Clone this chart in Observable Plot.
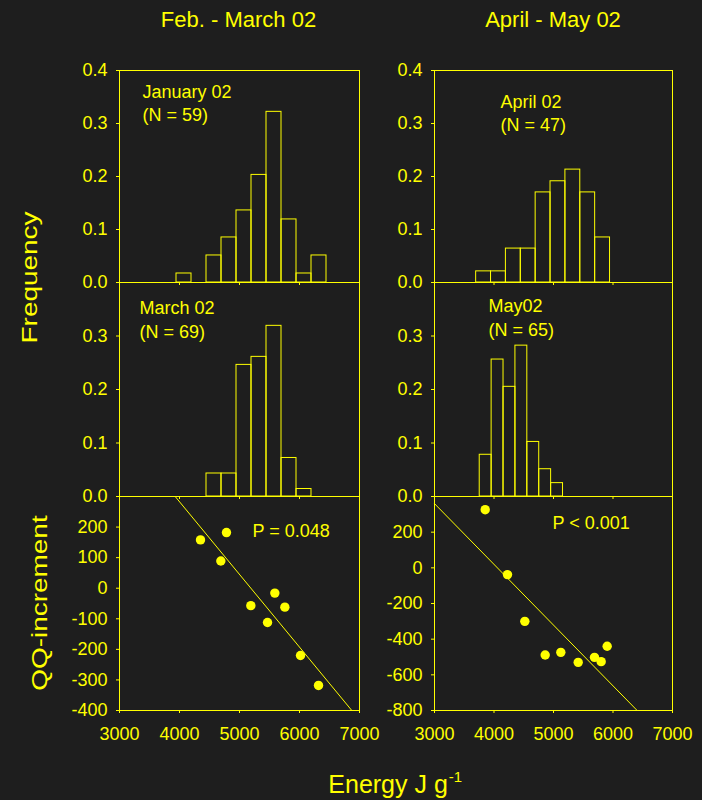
<!DOCTYPE html>
<html><head><meta charset="utf-8">
<script src="https://cdn.jsdelivr.net/npm/d3@7"></script>
<script src="https://cdn.jsdelivr.net/npm/@observablehq/plot@0.6"></script>
<style>
html,body{margin:0;padding:0;background:#1e1e1e;}
#chart{position:relative;width:702px;height:800px;background:#1e1e1e;overflow:hidden;font-family:"Liberation Sans",Arial,sans-serif;}
#chart svg{position:absolute;overflow:visible;max-width:none;}
</style></head><body><div id="chart"></div>
<script>
// ---------- data ----------
const columnTitles = ["Feb. - March 02", "April - May 02"];

const janLabel = "January 02\n(N = 59)";
const janBinLow = [3950, 4200, 4450, 4700, 4950, 5200, 5450, 5700, 5950, 6200];
const janFreq   = [0.017, 0, 0.051, 0.085, 0.136, 0.203, 0.322, 0.119, 0.017, 0.051];
const janBinWidth = 250;

const aprLabel = "April 02\n(N = 47)";
const aprBinLow = [3700, 3950, 4200, 4450, 4700, 4950, 5200, 5450, 5700];
const aprFreq   = [0.021, 0.021, 0.064, 0.064, 0.170, 0.191, 0.213, 0.170, 0.085];
const aprBinWidth = 250;

const marLabel = "March 02\n(N = 69)";
const marBinLow = [4450, 4700, 4950, 5200, 5450, 5700, 5950];
const marFreq   = [0.043, 0.043, 0.246, 0.261, 0.319, 0.072, 0.014];
const marBinWidth = 250;

const mayLabel = "May02\n(N = 65)";
const mayBinLow = [3760, 3960, 4160, 4360, 4560, 4760, 4960];
const mayFreq   = [0.078, 0.256, 0.205, 0.282, 0.102, 0.051, 0.025];
const mayBinWidth = 200;

const febMarP = "P = 0.048";
const febMarEnergy = [4350, 4783, 4689, 5189, 5589, 5756, 5467, 6017, 6317];
const febMarQQ     = [158, 182, 89, -57, -16, -62, -112, -220, -318];
const febMarFitEnergy = [3928, 6872];
const febMarFitQQ     = [300, -400];

const aprMayP = "P < 0.001";
const aprMayEnergy = [3852, 4227, 4518, 4860, 5123, 5415, 5689, 5801, 5902];
const aprMayQQ     = [326, -38, -300, -489, -474, -530, -502, -526, -440];
const aprMayFitEnergy = [3000, 6406];
const aprMayFitQQ     = [360, -800];

const energyTicks = [3000, 4000, 5000, 6000, 7000];
const histInnerTicks = [4000, 5000, 6000];
const freqTicksTop = [0, 0.1, 0.2, 0.3, 0.4];
const freqTicksMid = [0, 0.1, 0.2, 0.3];
const qqTicksLeft = [-400, -300, -200, -100, 0, 100, 200];
const qqTicksRight = [-800, -600, -400, -200, 0, 200];

const yLabelFreq = "Frequency";
const yLabelQQ = "QQ-increment";
const xLabel = "Energy J g";
const xLabelSup = "-1";

// ---------- drawing ----------
const YEL = "#ffff00";
const FONT = "'Liberation Sans', Arial, sans-serif";
const chart = document.getElementById("chart");

function hist(lows, freqs, width) {
  return lows.map((lo, i) => ({lo, hi: lo + width, f: freqs[i]})).filter(d => d.f > 0);
}
function pts(xs, ys) { return xs.map((x, i) => ({x, y: ys[i]})); }

function panel({left, top, w, h, mb = 10, mr = 10, yDomain, yTicks, yFmt, xLabels, marks}) {
  const ml = 60, mt = 10;
  const svg = Plot.plot({
    width: ml + w + mr, height: mt + h + mb,
    marginLeft: ml, marginRight: mr, marginTop: mt, marginBottom: mb,
    x: {domain: [3000, 7000]},
    y: {domain: yDomain},
    style: {background: "transparent", color: YEL, fontFamily: FONT, fontSize: "18px", overflow: "visible"},
    marks: [
      Plot.frame({stroke: YEL, strokeWidth: 1}),
      Plot.axisY({ticks: yTicks, tickFormat: yFmt, tickSize: 3, tickPadding: 9, label: null, fill: YEL, stroke: YEL}),
      Plot.axisX({ticks: xLabels ? energyTicks : histInnerTicks, tickSize: 3, tickPadding: 14,
                  tickFormat: xLabels ? (d => String(d)) : (() => ""), label: null, fill: YEL, stroke: YEL}),
      ...marks
    ]
  });
  svg.style.left = (left - ml) + "px";
  svg.style.top = (top - mt) + "px";
  chart.append(svg);
}

function histMarks(data, label, dx, dy) {
  return [
    Plot.rectY(data, {x1: "lo", x2: "hi", y: "f", fill: "none", stroke: YEL, strokeWidth: 1}),
    Plot.text([label], {frameAnchor: "top-left", dx, dy, textAnchor: "start", lineAnchor: "top",
                        lineHeight: 1.29, fontSize: 18, fill: YEL})
  ];
}
function scatterMarks(pointsData, fitData, label, dx, dy) {
  return [
    Plot.line(fitData, {x: "x", y: "y", stroke: YEL, strokeWidth: 1}),
    Plot.dot(pointsData, {x: "x", y: "y", r: 4.7, fill: YEL, stroke: "none"}),
    Plot.text([label], {frameAnchor: "top-left", dx, dy, textAnchor: "start", lineAnchor: "top",
                        fontSize: 18, fill: YEL})
  ];
}

const fmt1 = d3.format(".1f");
const LX = 119, LW = 240, RX = 434, RW = 238;

panel({left: LX, top: 70, w: LW, h: 212, yDomain: [0, 0.4], yTicks: freqTicksTop, yFmt: fmt1,
       marks: histMarks(hist(janBinLow, janFreq, janBinWidth), janLabel, 23, 11)});
panel({left: RX, top: 70, w: RW, h: 212, yDomain: [0, 0.4], yTicks: freqTicksTop, yFmt: fmt1,
       marks: histMarks(hist(aprBinLow, aprFreq, aprBinWidth), aprLabel, 66, 21)});
panel({left: LX, top: 282, w: LW, h: 214, yDomain: [0, 0.4], yTicks: freqTicksMid, yFmt: fmt1,
       marks: histMarks(hist(marBinLow, marFreq, marBinWidth), marLabel, 20, 15.5)});
panel({left: RX, top: 282, w: RW, h: 214, yDomain: [0, 0.4], yTicks: freqTicksMid, yFmt: fmt1,
       marks: histMarks(hist(mayBinLow, mayFreq, mayBinWidth), mayLabel, 54, 13.5)});
panel({left: LX, top: 496, w: LW, h: 214, mb: 40, mr: 25, yDomain: [-400, 300], yTicks: qqTicksLeft,
       yFmt: d => String(d), xLabels: true,
       marks: scatterMarks(pts(febMarEnergy, febMarQQ), pts(febMarFitEnergy, febMarFitQQ), febMarP, 133, 27.5)});
panel({left: RX, top: 496, w: RW, h: 214, mb: 40, mr: 25, yDomain: [-800, 400], yTicks: qqTicksRight,
       yFmt: d => String(d), xLabels: true,
       marks: scatterMarks(pts(aprMayEnergy, aprMayQQ), pts(aprMayFitEnergy, aprMayFitQQ), aprMayP, 118, 20)});

// titles and axis labels overlay
const ov = d3.create("svg").attr("width", 702).attr("height", 800)
  .style("left", "0px").style("top", "0px").style("pointer-events", "none")
  .attr("font-family", FONT).attr("fill", YEL);
ov.append("text").attr("x", 238.5).attr("y", 27.3).attr("text-anchor", "middle").attr("font-size", 22).text(columnTitles[0]);
ov.append("text").attr("x", 553).attr("y", 27.3).attr("text-anchor", "middle").attr("font-size", 22).text(columnTitles[1]);
ov.append("text").attr("transform", "translate(36.7,277.5) rotate(-90) scale(1.27,1)")
  .attr("text-anchor", "middle").attr("font-size", 22).text(yLabelFreq);
ov.append("text").attr("transform", "translate(47.3,603) rotate(-90) scale(1.27,1)")
  .attr("text-anchor", "middle").attr("font-size", 22).text(yLabelQQ);
const xl = ov.append("text").attr("x", 328.3).attr("y", 793.3).attr("font-size", 25);
xl.append("tspan").text(xLabel);
xl.append("tspan").attr("dx", 1).attr("dy", -11).attr("font-size", 15).text(xLabelSup);
chart.append(ov.node());
</script>
</body></html>
